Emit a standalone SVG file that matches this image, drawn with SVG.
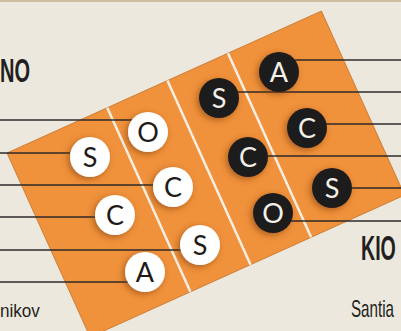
<svg xmlns="http://www.w3.org/2000/svg" width="401" height="331" viewBox="0 0 401 331">
<style>
.lbl{font-family:"Liberation Sans",Arial,sans-serif;fill:#231f20}
.big{font-weight:bold}
.wc{fill:#ffffff;filter:url(#sh)}
.bc{fill:#1e1b1c;filter:url(#sh)}
.wl{font-family:Lato,"Open Sans",sans-serif;font-size:27px;fill:#1f1a17;text-anchor:middle}
.bl{font-family:Lato,"Open Sans",sans-serif;font-size:27px;fill:#f4f0e8;text-anchor:middle}
.ln{stroke:#2e2a28;stroke-width:1.3;fill:none}
.dv{stroke:#f7efe1;stroke-width:2.5}
</style>
<defs>
<filter id="sh" x="-60%" y="-60%" width="220%" height="220%">
<feDropShadow dx="-2" dy="2" stdDeviation="3" flood-color="#7a3a08" flood-opacity="0.6"/>
</filter>
</defs>
<rect width="401" height="331" fill="#ece8dd"/>
<rect width="401" height="2" fill="#cdbf9f"/>
<g id="board" transform="translate(7,153) rotate(-24.3)">
<rect x="0" y="0" width="345" height="202" fill="#f0913b" stroke="#c9782f" stroke-width="0.8"/>
<line class="dv" x1="110" y1="0" x2="110" y2="202"/>
<line class="dv" x1="176" y1="0" x2="176" y2="202"/>
<line class="dv" x1="242.5" y1="0" x2="242.5" y2="202"/>
</g>
<g id="connectors">
<line class="ln" x1="0" y1="120" x2="132" y2="120"/>
<line class="ln" x1="0" y1="153" x2="70" y2="153"/>
<line class="ln" x1="0" y1="185" x2="153" y2="185"/>
<line class="ln" x1="0" y1="217" x2="95" y2="217"/>
<line class="ln" x1="0" y1="250" x2="181" y2="250"/>
<line class="ln" x1="0" y1="282" x2="128" y2="282"/>
<line class="ln" x1="295" y1="60" x2="401" y2="60"/>
<line class="ln" x1="238" y1="92" x2="401" y2="92"/>
<line class="ln" x1="326" y1="124" x2="401" y2="124"/>
<line class="ln" x1="268" y1="156" x2="401" y2="156"/>
<line class="ln" x1="352" y1="188" x2="401" y2="188"/>
<line class="ln" x1="291" y1="221" x2="401" y2="221"/>
</g>
<g id="w-O"><circle class="wc" cx="148" cy="132" r="20"/><text class="wl" x="148" y="141.5">O</text></g>
<g id="w-S"><circle class="wc" cx="90" cy="157" r="20"/><text class="wl" x="90" y="166.5">S</text></g>
<g id="w-C1"><circle class="wc" cx="173" cy="187" r="20"/><text class="wl" x="173" y="196.5">C</text></g>
<g id="w-C2"><circle class="wc" cx="115" cy="215" r="20"/><text class="wl" x="115" y="224.5">C</text></g>
<g id="w-S2"><circle class="wc" cx="200" cy="245" r="20"/><text class="wl" x="200" y="254.5">S</text></g>
<g id="w-A"><circle class="wc" cx="145" cy="272" r="20"/><text class="wl" x="145" y="281.5">A</text></g>
<g id="b-A"><circle class="bc" cx="279" cy="72" r="20"/><text class="bl" x="279" y="81.5">A</text></g>
<g id="b-S"><circle class="bc" cx="219" cy="98" r="20"/><text class="bl" x="219" y="107.5">S</text></g>
<g id="b-C1"><circle class="bc" cx="307" cy="128" r="20"/><text class="bl" x="307" y="137.5">C</text></g>
<g id="b-C2"><circle class="bc" cx="248" cy="157" r="20"/><text class="bl" x="248" y="166.5">C</text></g>
<g id="b-S2"><circle class="bc" cx="332" cy="188" r="20"/><text class="bl" x="332" y="197.5">S</text></g>
<g id="b-O"><circle class="bc" cx="273" cy="213" r="20"/><text class="bl" x="273" y="222.5">O</text></g>
<g id="label-no"><text class="lbl big" transform="translate(0,82) scale(0.606,1)" style="font-size:33px">NO</text></g>
<g id="label-kio"><text class="lbl big" transform="translate(361,260) scale(0.56,1)" style="font-size:35px">KIO</text></g>
<g id="label-nikov"><text class="lbl" transform="translate(0,317) scale(0.9,1)" style="font-size:19px">nikov</text></g>
<g id="label-santia"><text class="lbl" transform="translate(351,317) scale(0.66,1)" style="font-size:23px">Santia</text></g>
</svg>
